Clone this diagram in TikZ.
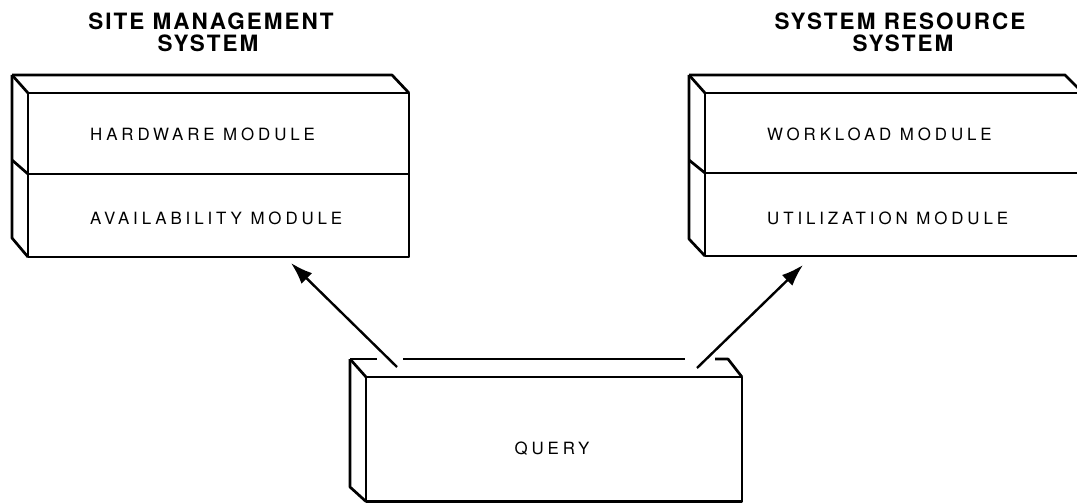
\documentclass[tikz,border=0pt]{standalone}
\usepackage{fontspec}
\setmainfont{TeX Gyre Heros}
\newfontfamily\titlefont[LetterSpace=9]{TeX Gyre Heros}
\newfontfamily\modfont[LetterSpace=23]{TeX Gyre Heros}
\usetikzlibrary{arrows.meta}
\begin{document}
\begin{tikzpicture}[x=1pt,y=-1pt,
  box/.style={line width=2.7pt, line join=round},
  ttl/.style={font=\titlefont\bfseries\fontsize{22.5}{26}\selectfont, anchor=base, inner sep=0pt},
  modlabel/.style={font=\modfont\fontsize{16.9}{20}\selectfont, anchor=base west, inner sep=0pt},
  conn/.style={line width=2.4pt, -{Latex[length=22pt,width=15pt]}}]
\useasboundingbox (0,0) rectangle (1077,503);
\clip (0,0) rectangle (1077,503);
% titles
\node[ttl] (t1a) at (211,30) {SITE MANAGEMENT};
\node[ttl] (t1b) at (208,52) {SYSTEM};
\node[ttl] (t2a) at (900,30) {SYSTEM RESOURCE};
\node[ttl] (t2b) at (903,52) {SYSTEM};
% left box
\draw[box] (12,75) -- (392,75) -- (409,93);
\draw[box] (12,75) -- (28,93);
\draw[box] (12,75) -- (12,238) -- (28,257);
\draw[box] (12,160) -- (28,174);
\draw[box] (28,93) rectangle (409,257);
\draw[box] (28,174) -- (409,174);
\node[modlabel] (hw) at (90,140) {HARDWARE MODULE};
\node[modlabel] (av) at (90,224) {AVAILABILITY MODULE};
% right box
\draw[box] (689,75) -- (1065,75) -- (1083,93);
\draw[box] (689,75) -- (705,93);
\draw[box] (689,75) -- (689,239) -- (705,256);
\draw[box] (689,160) -- (705,173);
\draw[box] (705,93) rectangle (1083,256);
\draw[box] (705,173) -- (1083,173);
\node[modlabel] (wl) at (767,140) {WORKLOAD MODULE};
\node[modlabel] (ut) at (767,224) {UTILIZATION MODULE};
% query box
\draw[box] (350,359) -- (377,359);
\draw[box] (403,359) -- (685,359);
\draw[box] (715,359) -- (728,359) -- (742,377);
\draw[box] (350,359) -- (366,377);
\draw[box] (350,359) -- (350,487) -- (366,501.5);
\draw[box] (366,377) rectangle (742,501.5);
\node[font=\modfont\fontsize{16.9}{20}\selectfont, anchor=base, inner sep=0pt] (q) at (552,454) {QUERY};
% arrows
\coordinate (qa) at (397,367);
\coordinate (ta) at (291,263);
\coordinate (qb) at (697,368);
\coordinate (tb) at (803,265);
\draw[conn] (qa) -- (ta);
\draw[conn] (qb) -- (tb);
\end{tikzpicture}
\end{document}
